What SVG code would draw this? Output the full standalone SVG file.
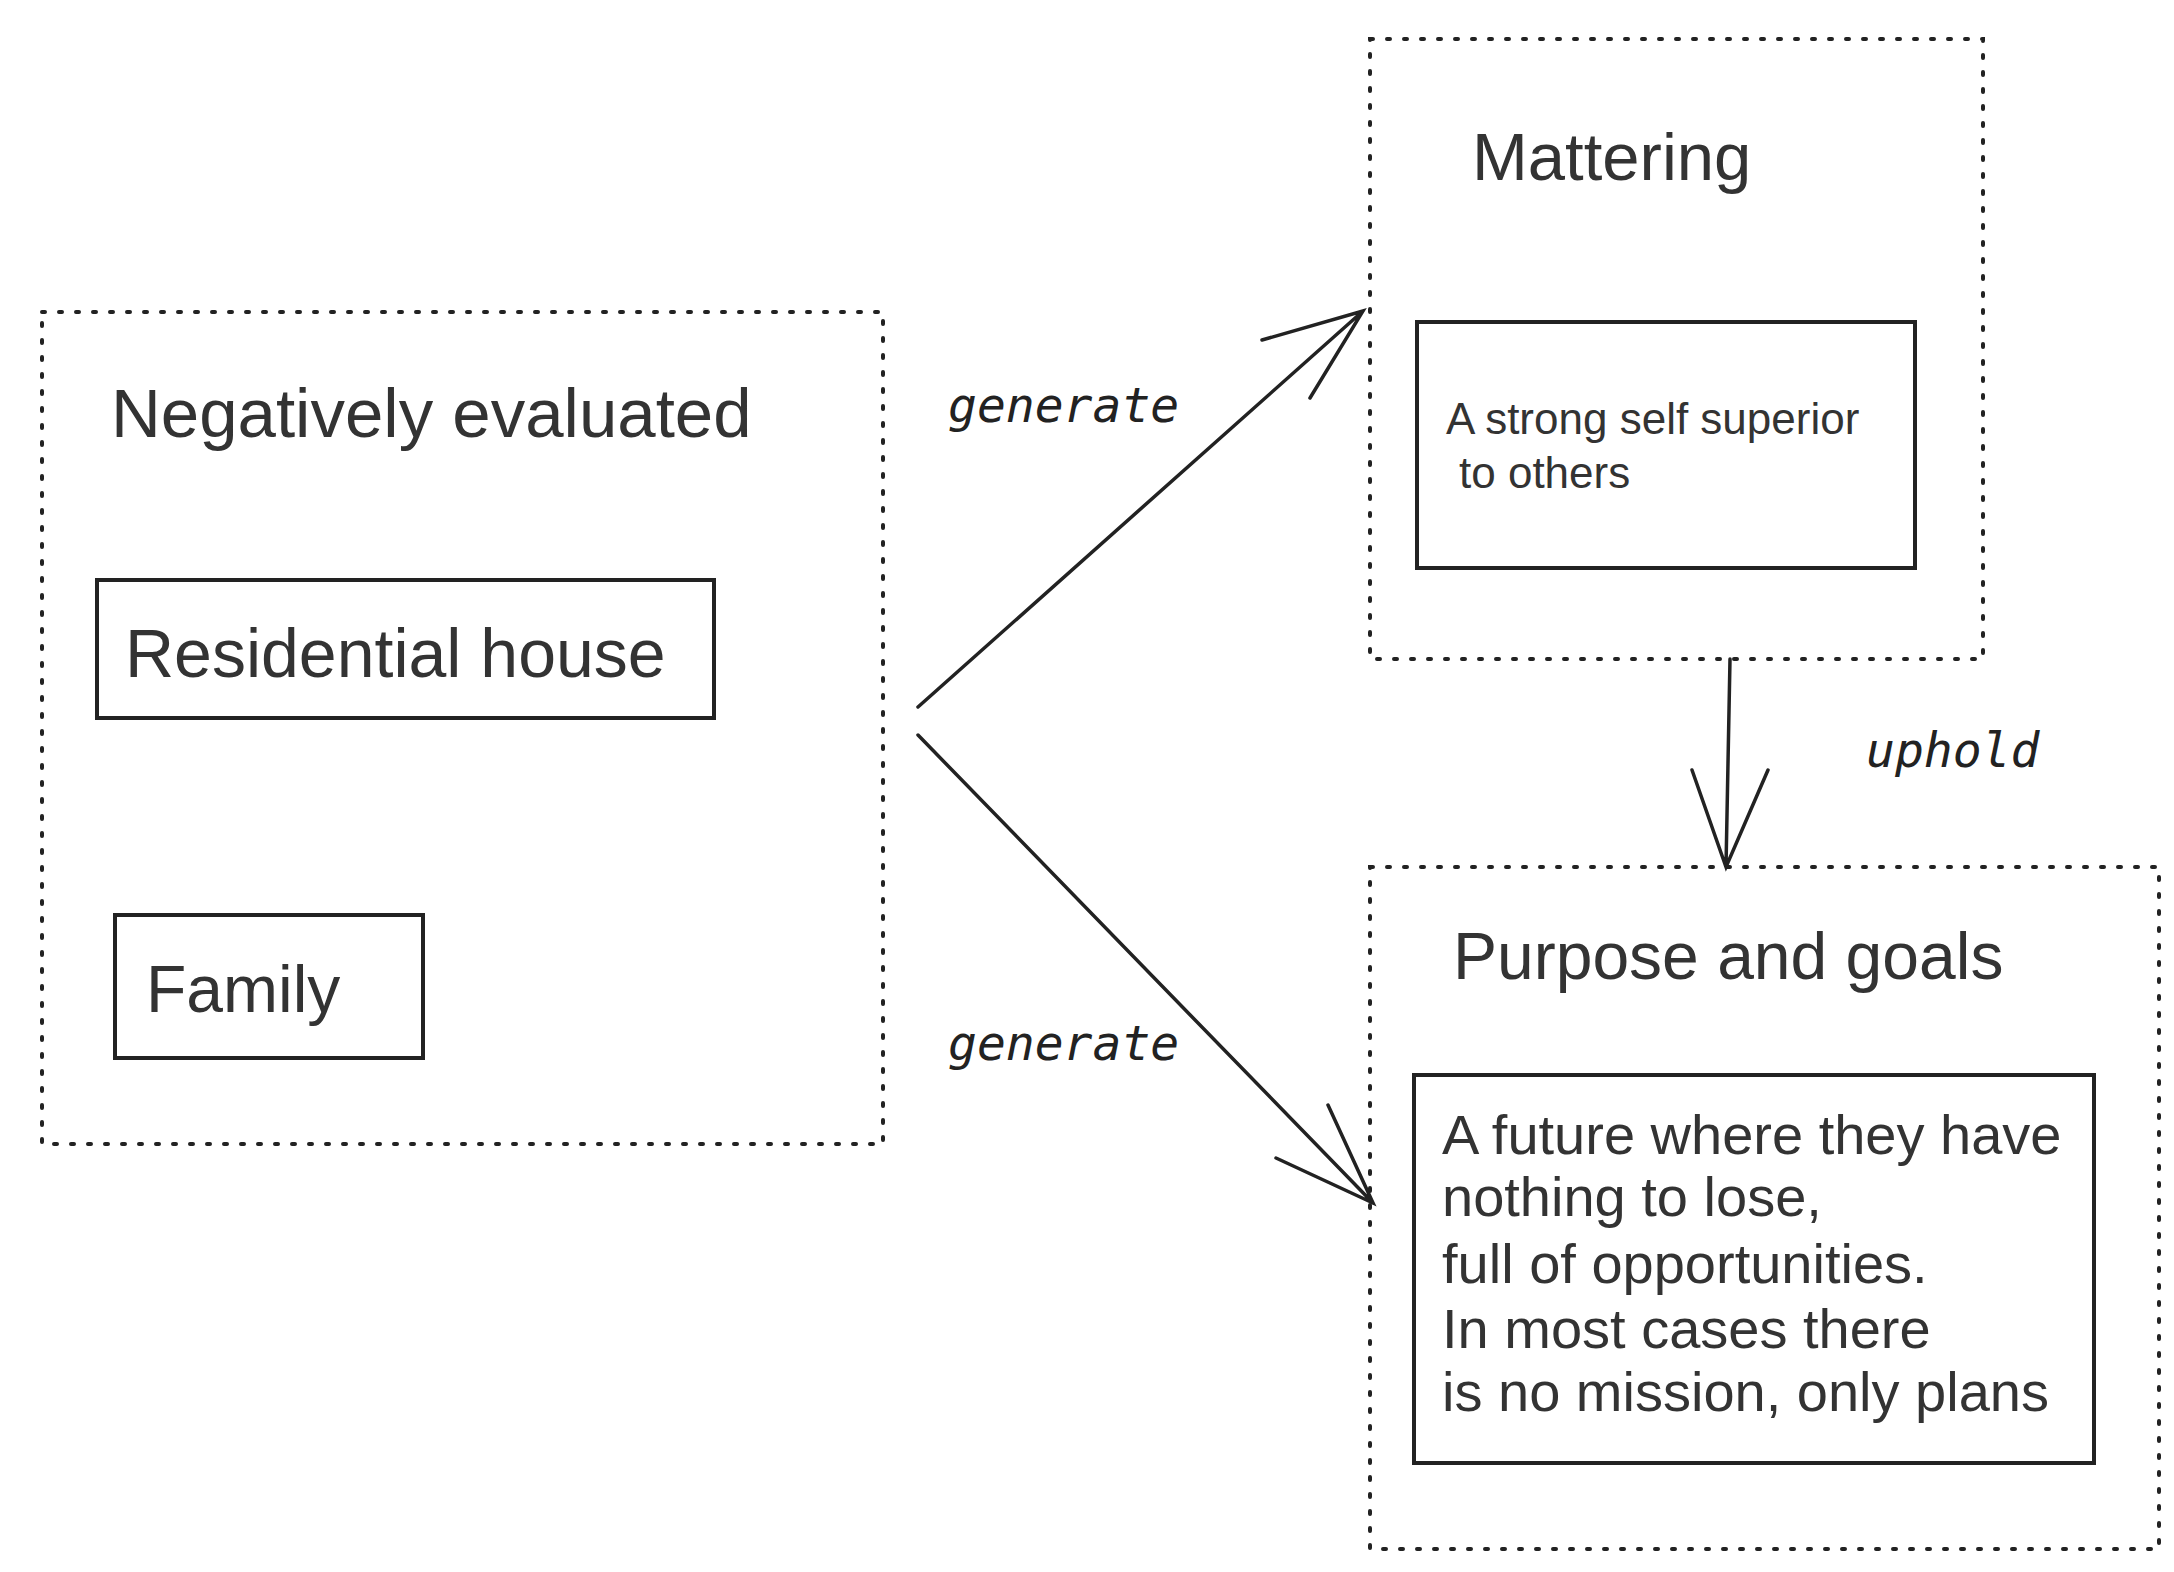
<svg xmlns="http://www.w3.org/2000/svg" width="2174" height="1572" viewBox="0 0 2174 1572">
<style>
.dot{fill:none;stroke:#222;stroke-width:4;stroke-dasharray:3 14;stroke-linecap:round}
.box{fill:none;stroke:#222;stroke-width:4}
.t{font-family:"Liberation Sans",Arial,sans-serif;fill:#333}
.h{font-family:"DejaVu Sans Mono",monospace;font-style:italic;font-size:48px;fill:#222}
.c{fill:none;stroke:#222;stroke-width:3.5;stroke-linecap:round}
</style>
<rect width="2174" height="1572" fill="#fff"/>
<g id="negatively-evaluated">
<rect class="dot" x="42" y="312" width="841" height="832"/>
<text class="t" x="111" y="437" font-size="69">Negatively evaluated</text>
</g>
<g id="residential-house">
<rect class="box" x="97" y="580" width="617" height="138"/>
<text class="t" x="125" y="677" font-size="68">Residential house</text>
</g>
<g id="family">
<rect class="box" x="115" y="915" width="308" height="143"/>
<text class="t" x="146" y="1012" font-size="66">Family</text>
</g>
<g id="mattering">
<rect class="dot" x="1370" y="39" width="613" height="620"/>
<text class="t" x="1472" y="180" font-size="67">Mattering</text>
</g>
<g id="strong-self">
<rect class="box" x="1417" y="322" width="498" height="246"/>
<text class="t" x="1446" y="434" font-size="44">A strong self superior</text>
<text class="t" x="1459" y="488" font-size="44">to others</text>
</g>
<g id="purpose">
<rect class="dot" x="1370" y="867" width="789" height="682"/>
<text class="t" x="1453" y="979" font-size="66">Purpose and goals</text>
</g>
<g id="future">
<rect class="box" x="1414" y="1075" width="680" height="388"/>
<text class="t" font-size="56"><tspan x="1442" y="1154">A future where they have</tspan><tspan x="1442" y="1216">nothing to lose,</tspan><tspan x="1442" y="1283">full of opportunities.</tspan><tspan x="1442" y="1348">In most cases there</tspan><tspan x="1442" y="1411">is no mission, only plans</tspan></text>
</g>
<g id="connectors">
<path class="c" d="M918 707 L1363 311 M1262 340 L1363 311 L1310 398"/>
<path class="c" d="M918 735 L1373 1203 M1276 1158 L1373 1203 L1328 1105"/>
<path class="c" d="M1730 659 L1726 867 M1692 770 L1726 867 L1768 770"/>
<text class="h" x="948" y="422">generate</text>
<text class="h" x="948" y="1060">generate</text>
<text class="h" x="1866" y="767">uphold</text>
</g>
</svg>
